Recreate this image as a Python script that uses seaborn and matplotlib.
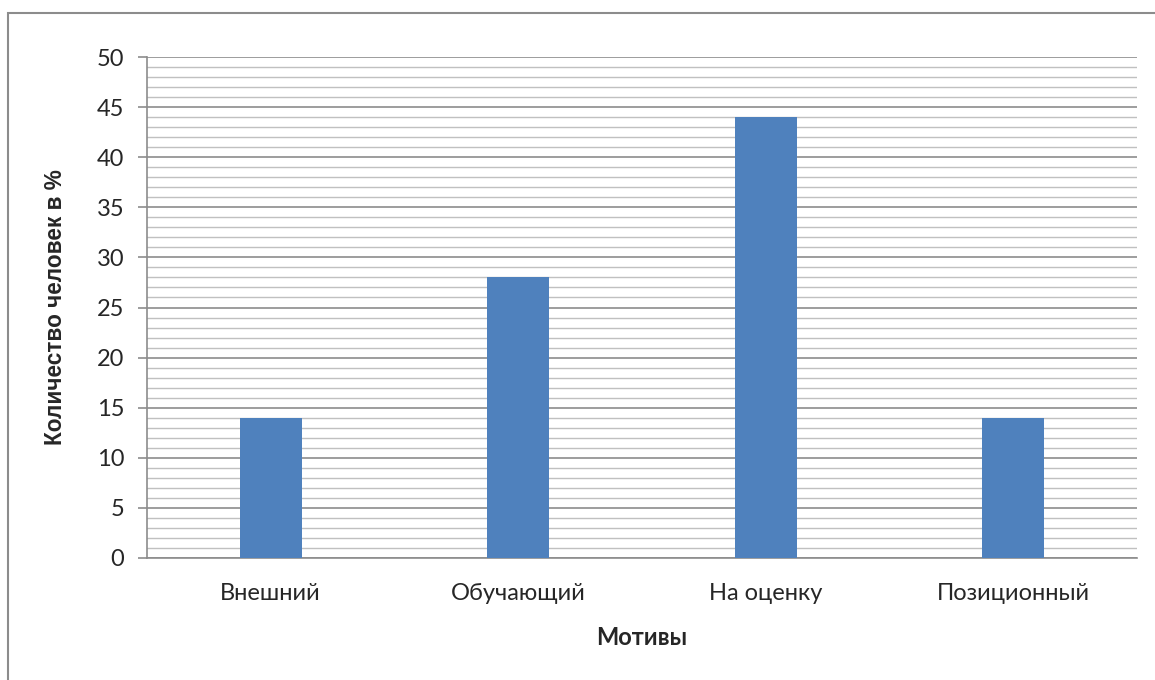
import matplotlib
matplotlib.use('Agg')
import matplotlib.pyplot as plt
import seaborn as sns
import pandas as pd
from matplotlib.ticker import MultipleLocator
from matplotlib.patches import Rectangle

# данные
motives = ['Внешний', 'Обучающий', 'На оценку', 'Позиционный']
percent = [14, 28, 44, 14]

df = pd.DataFrame({'Мотивы': motives, 'Процент': percent})

sns.set_style('white')
plt.rcParams['font.family'] = ['Lato', 'DejaVu Sans']

fig = plt.figure(figsize=(11.55, 6.8), dpi=100)
ax = fig.add_axes([147 / 1155, 1 - 558 / 680, 990 / 1155, 501 / 680])

sns.barplot(data=df, x='Мотивы', y='Процент', color='#4F81BD', width=0.25,
            saturation=1, linewidth=0, ax=ax, zorder=3)

ax.set_ylim(0, 50)
ax.set_xlim(-0.5, 3.5)
ax.yaxis.set_major_locator(MultipleLocator(5))
ax.yaxis.set_minor_locator(MultipleLocator(1))
ax.grid(which='major', axis='y', color='#8c8c8c', linewidth=1.2, zorder=0)
ax.grid(which='minor', axis='y', color='#c0c0c0', linewidth=1.0, zorder=0)
ax.set_axisbelow(True)

for side in ['top', 'right']:
    ax.spines[side].set_visible(False)
ax.spines['left'].set_color('#8c8c8c')
ax.spines['bottom'].set_color('#8c8c8c')
ax.spines['left'].set_linewidth(1.2)
ax.spines['bottom'].set_linewidth(1.2)

ax.tick_params(axis='y', which='major', length=6.5, width=1.2, color='#8c8c8c',
               labelsize=17, pad=10, left=True)
ax.tick_params(axis='y', which='minor', length=0)
ax.tick_params(axis='x', length=0, labelsize=17, pad=18)

ax.set_xlabel('Мотивы', fontsize=17, fontweight='bold', labelpad=16)
ax.set_ylabel('Количество человек в %', fontsize=16.3, fontweight='bold', labelpad=21,
              family=['Liberation Sans', 'DejaVu Sans'])

# рамка диаграммы
fig.patches.append(Rectangle((8 / 1155, -0.1), 1.2, 1 - 13 / 680 + 0.1,
                             transform=fig.transFigure, fill=False,
                             edgecolor='#8c8c8c', linewidth=1.5))

fig.savefig('out.png', dpi=100)
